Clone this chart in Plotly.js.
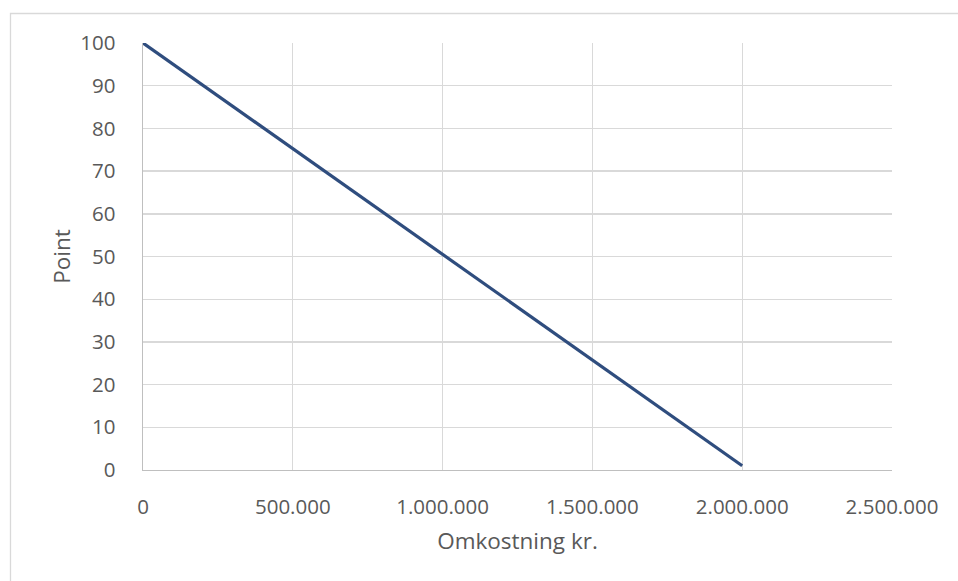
<!DOCTYPE html>
<html>
<head>
<meta charset="utf-8">
<script src="https://cdn.plot.ly/plotly-3.0.1.min.js"></script>
<style>html,body{margin:0;padding:0;background:#fff;}#chart{width:958px;height:581px;}</style>
</head>
<body>
<div id="chart"></div>
<script>
const costs = [0, 2000000];
const points = [100, 1];
const xTicks = [0, 500000, 1000000, 1500000, 2000000, 2500000];
const yTicks = [0, 10, 20, 30, 40, 50, 60, 70, 80, 90, 100];
const xTitle = 'Omkostning kr.';
const yTitle = 'Point';

const tickFont = {family: 'Open Sans, Liberation Sans, sans-serif', size: 20.5, color: '#595959'};
const titleFont = {family: 'Open Sans, Liberation Sans, sans-serif', size: 22.5, color: '#595959'};

Plotly.newPlot('chart', [{
  x: costs, y: points, type: 'scatter', mode: 'lines',
  line: {color: '#2f4d7e', width: 3.2}, hoverinfo: 'skip'
}], {
  width: 958, height: 581,
  margin: {l: 143, r: 66, t: 43, b: 111},
  separators: ',.',
  font: tickFont,
  showlegend: false,
  plot_bgcolor: '#fff', paper_bgcolor: '#fff',
  xaxis: {
    range: [0, 2500000], tickvals: xTicks, tickformat: ',d',
    showgrid: true, gridcolor: '#d9d9d9', gridwidth: 1.4,
    showline: true, linecolor: '#bfbfbf', linewidth: 1.4, mirror: false,
    zeroline: false, ticks: '', ticklabelstandoff: 18,
    title: {text: xTitle, font: titleFont, standoff: 14},
    tickfont: tickFont, automargin: false
  },
  yaxis: {
    range: [0, 100], tickvals: yTicks,
    showgrid: true, gridcolor: '#d9d9d9', gridwidth: 1.4,
    showline: true, linecolor: '#bfbfbf', linewidth: 1.4,
    zeroline: false, ticks: '', ticklabelstandoff: 22,
    title: {text: yTitle, font: titleFont, standoff: 3},
    tickfont: tickFont, automargin: false
  },
  shapes: [{
    type: 'rect', xref: 'paper', yref: 'paper', layer: 'below',
    x0: (10.5 - 143) / 749, x1: 2,
    y0: -2, y1: 1 + (43 - 13.5) / 427,
    line: {color: '#d9d9d9', width: 1.3}, fillcolor: 'rgba(0,0,0,0)'
  }]
}, {staticPlot: true, displayModeBar: false});
</script>
</body>
</html>
